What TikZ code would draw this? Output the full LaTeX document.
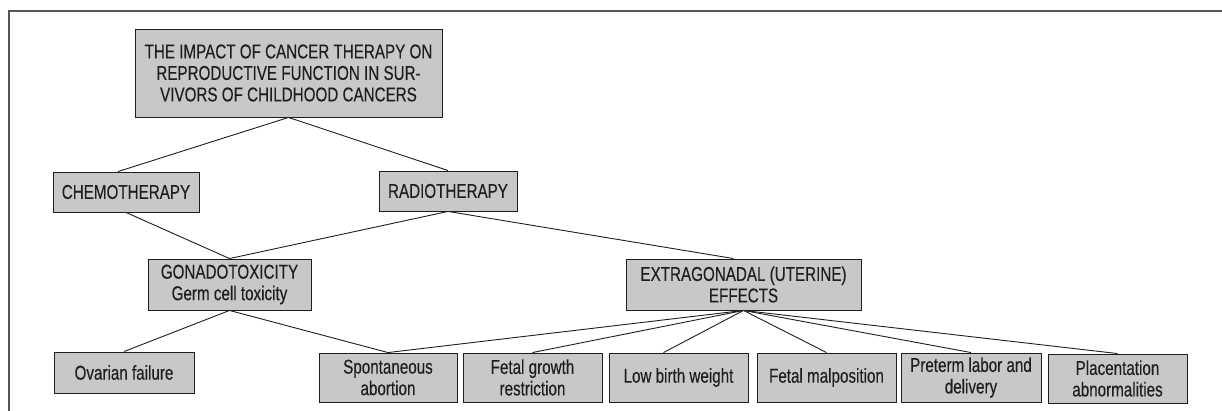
\documentclass[tikz,border=0pt]{standalone}
\usepackage{fontspec}
\setmainfont{Liberation Sans}[FakeStretch=0.76,UprightFeatures={FakeBold=0.25}]
\definecolor{boxgray}{RGB}{200,200,200}
\definecolor{framegray}{RGB}{85,85,85}
\definecolor{inkdark}{RGB}{30,30,30}
\begin{document}
\begin{tikzpicture}[x=1pt,y=1pt,
  bx/.style={draw=inkdark, fill=boxgray, line width=0.9pt, inner sep=0pt, align=center,
    text=inkdark, font=\fontsize{20}{21.5}\selectfont},
  link/.style={draw=inkdark, line width=0.9pt}]
\useasboundingbox (0,0) rectangle (1222,-411);
% frame (top and left only)
\draw[framegray, line width=2pt] (9,-411) -- (9,-11) -- (1222,-11);
% nodes
\node[bx, minimum width=307, minimum height=88] (title) at (288.5,-73)
  {THE IMPACT OF CANCER THERAPY ON\\REPRODUCTIVE FUNCTION IN SUR-\\VIVORS OF CHILDHOOD CANCERS};
\node[bx, minimum width=146, minimum height=40] (chemo) at (126,-192) {CHEMOTHERAPY};
\node[bx, minimum width=138, minimum height=40] (radio) at (448,-191) {RADIOTHERAPY};
\node[bx, minimum width=163, minimum height=51] (gonado) at (229.5,-284.5) {GONADOTOXICITY\\Germ cell toxicity};
\node[bx, minimum width=235, minimum height=51] (extra) at (743.5,-284.5) {EXTRAGONADAL (UTERINE)\\EFFECTS};
\node[bx, minimum width=140, minimum height=41] (ovar) at (124,-372.5) {Ovarian failure};
\node[bx, minimum width=138, minimum height=49] (spont) at (388,-377.5) {Spontaneous\\abortion};
\node[bx, minimum width=139, minimum height=49] (fgr) at (532.5,-377.5) {Fetal growth\\restriction};
\node[bx, minimum width=139, minimum height=49] (lbw) at (678.5,-377.5) {Low birth weight};
\node[bx, minimum width=139, minimum height=49] (malp) at (826.5,-377.5) {Fetal malposition};
\node[bx, minimum width=140, minimum height=49] (pret) at (971,-377.5) {Preterm labor and\\delivery};
\node[bx, minimum width=139, minimum height=49] (plac) at (1117.5,-378.5) {Placentation\\abnormalities};
% connectors
\draw[link] ([xshift=-8pt]chemo.north) -- (title.south) -- (radio.north);
\draw[link] (chemo.south) -- (gonado.north) -- (radio.south) -- ([xshift=-10pt]extra.north);
\draw[link] (ovar.north) -- (gonado.south) -- (spont.north);
\draw[link] (extra.south) -- (spont.north);
\draw[link] (extra.south) -- (fgr.north);
\draw[link] (extra.south) -- ([xshift=-15pt]lbw.north);
\draw[link] (extra.south) -- (malp.north);
\draw[link] (extra.south) -- (pret.north);
\draw[link] (extra.south) -- (plac.north);
\end{tikzpicture}
\end{document}
